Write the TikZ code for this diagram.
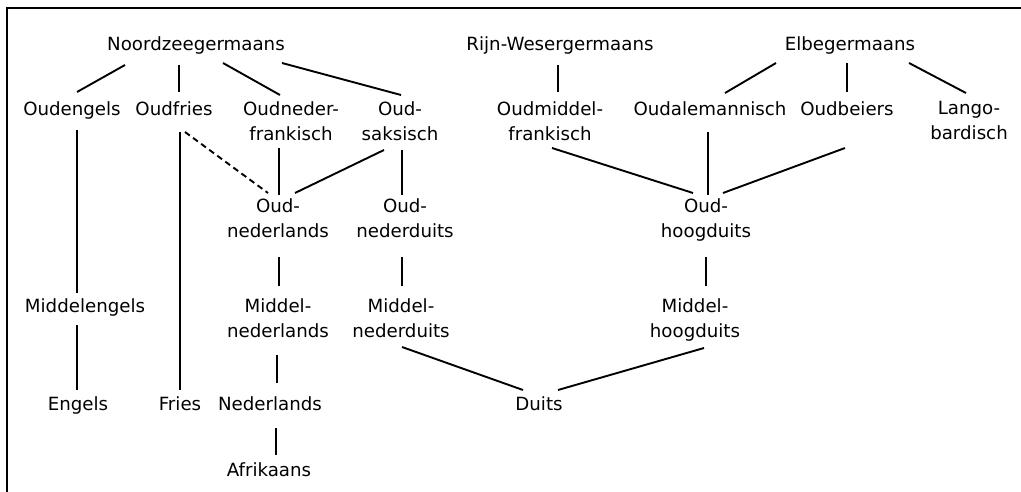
\documentclass[tikz,border=0pt]{standalone}
\usepackage{fontspec}
\setmainfont{DejaVu Sans}
\begin{document}
\begin{tikzpicture}[x=1pt,y=-1pt,
  lbl/.style={anchor=north,inner sep=0pt,align=center,font=\fontsize{18.2}{25}\selectfont},
  edge/.style={line width=1.9pt},
  dashedge/.style={edge,dash pattern=on 6pt off 4pt}]
\useasboundingbox (0,0) rectangle (1021,492);
\draw[line width=2pt] (1021,8) -- (7,8) -- (7,492);
% row 1
\node[lbl] (NZ) at (196,36) {Noordzeegermaans};
\node[lbl] (RW) at (560,36) {Rijn-Wesergermaans};
\node[lbl] (EG) at (850,36) {Elbegermaans};
% row 2
\node[lbl] (OE) at (72,101) {Oudengels};
\node[lbl] (OF) at (174,101) {Oudfries};
\node[lbl] (ONF) at (291,101) {Oudneder-\\frankisch};
\node[lbl] (OS) at (400,101) {Oud-\\saksisch};
\node[lbl] (OMF) at (550,101) {Oudmiddel-\\frankisch};
\node[lbl] (OA) at (710,101) {Oudalemannisch};
\node[lbl] (OB) at (847,101) {Oudbeiers};
\node[lbl] (LB) at (969,101) {Lango-\\bardisch};
% row 3
\node[lbl] (ONL) at (278,198) {Oud-\\nederlands};
\node[lbl] (OND) at (405,198) {Oud-\\nederduits};
\node[lbl] (OHD) at (706,198) {Oud-\\hoogduits};
% row 4
\node[lbl] (ME) at (85,298) {Middelengels};
\node[lbl] (MNL) at (278,298) {Middel-\\nederlands};
\node[lbl] (MND) at (401,298) {Middel-\\nederduits};
\node[lbl] (MHD) at (695,298) {Middel-\\hoogduits};
% row 5
\node[lbl] (EN) at (78,396) {Engels};
\node[lbl] (FR) at (180,396) {Fries};
\node[lbl] (NL) at (270,396) {Nederlands};
\node[lbl] (DU) at (539,396) {Duits};
% row 6
\node[lbl] (AF) at (269,462) {Afrikaans};
% connectors
\draw[edge] ([shift={(-71,29)}]NZ.north) -- ([shift={(5,-9)}]OE.north);
\draw[edge] ([shift={(-17,29)}]NZ.north) -- ([shift={(5,-9)}]OF.north);
\draw[edge] ([shift={(27,27)}]NZ.north) -- ([shift={(-11,-6)}]ONF.north);
\draw[edge] ([shift={(86,27)}]NZ.north) -- ([shift={(1,-6)}]OS.north);
\draw[edge] ([shift={(-2,29)}]RW.north) -- ([shift={(8,-9)}]OMF.north);
\draw[edge] ([shift={(-74,27)}]EG.north) -- ([shift={(15,-8)}]OA.north);
\draw[edge] ([shift={(-3,27)}]EG.north) -- ([shift={(0,-9)}]OB.north);
\draw[edge] ([shift={(59,27)}]EG.north) -- ([shift={(-3,-8)}]LB.north);
\draw[edge] ([shift={(5,29)}]OE.north) -- ([shift={(-8,-5)}]ME.north);
\draw[edge] ([shift={(-8,27)}]ME.north) -- ([shift={(-1,-6)}]EN.north);
\draw[edge] ([shift={(6,31)}]OF.north) -- ([shift={(0,-6)}]FR.north);
\draw[dashedge] ([shift={(11,31)}]OF.north) -- ([shift={(-10,-5)}]ONL.north);
\draw[edge] ([shift={(-12,47)}]ONF.north) -- ([shift={(1,-3)}]ONL.north);
\draw[edge] ([shift={(-16,49)}]OS.north) -- ([shift={(17,-5)}]ONL.north);
\draw[edge] ([shift={(2,49)}]OS.north) -- ([shift={(-3,-3)}]OND.north);
\draw[edge] ([shift={(2,47)}]OMF.north) -- ([shift={(-13,-5)}]OHD.north);
\draw[edge] ([shift={(-2,31)}]OA.north) -- ([shift={(2,-3)}]OHD.north);
\draw[edge] ([shift={(-2,47)}]OB.north) -- ([shift={(17,-5)}]OHD.north);
\draw[edge] ([shift={(1,59)}]ONL.north) -- ([shift={(1,-12)}]MNL.north);
\draw[edge] ([shift={(-3,59)}]OND.north) -- ([shift={(1,-12)}]MND.north);
\draw[edge] ([shift={(0,59)}]OHD.north) -- ([shift={(11,-12)}]MHD.north);
\draw[edge] ([shift={(-1,57)}]MNL.north) -- ([shift={(7,-13)}]NL.north);
\draw[edge] ([shift={(6,32)}]NL.north) -- ([shift={(7,-7)}]AF.north);
\draw[edge] ([shift={(1,49)}]MND.north) -- ([shift={(-16,-6)}]DU.north);
\draw[edge] ([shift={(9,50)}]MHD.north) -- ([shift={(19,-6)}]DU.north);
\end{tikzpicture}
\end{document}
